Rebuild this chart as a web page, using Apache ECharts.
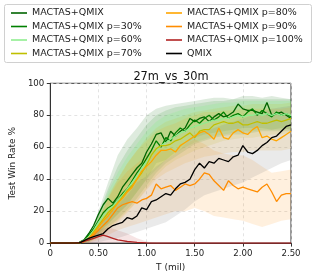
<!DOCTYPE html>
<html><head><meta charset="utf-8">
<script src="https://cdn.jsdelivr.net/npm/echarts@6/dist/echarts.min.js"></script>
<style>html,body{margin:0;padding:0;background:#fff}#c{width:317px;height:277px}</style>
</head><body><div id="c"></div>
<script>
// x grid for lines: 0..2.5 step 0.05 (mil); bands: 0..2.5 step 0.1
const lineStep = 0.05, bandStep = 0.1;
const seriesNames = ["MACTAS+QMIX","MACTAS+QMIX p=30%","MACTAS+QMIX p=60%","MACTAS+QMIX p=70%","MACTAS+QMIX p=80%","MACTAS+QMIX p=90%","MACTAS+QMIX p=100%","QMIX"];
const xTicks = [0, 0.5, 1.0, 1.5, 2.0, 2.5];
const yTicks = [0, 20, 40, 60, 80, 100];

const mactas     = [0,0,0,0,0,0,0.5,2,6,11,18,24,28,25,29,35,39,43,47,50,57,62,68,69,63,70,67,70,72,78,76,78,79,76,79,81,79,80,82,87,84,83,83,82,81,88,80,81,82,80,78];
const mactasP30  = [0,0,0,0,0,0,0.3,1.5,5,9,14,19,22,24,27,31,34,39,44,48,53,58,64,60,66,64,69,72,70,74,77,75,78,80,77,79,82,78,80,81,79,82,84,80,83,81,79,82,80,81,79];
const mactasP60  = [0,0,0,0,0,0,0.3,1.5,4,8,13,17,21,23,27,30,34,38,42,47,51,55,58,61,63,65,67,69,70,72,73,74,75,76,77,77,78,78,79,80,79,80,80,81,80,81,80,81,80,81,80];
const mactasP70  = [0,0,0,0,0,0,0.2,1,3,7,11,15,19,22,25,29,33,36,40,44,49,55,59,61,61,62,64,65,67,69,66,70,71,71,74,75,76,75,75,76,74,74,75,76,75,75,76,77,76,77,78];
const mactasP80  = [0,0,0,0,0,0,0.2,1,3,6,10,14,17,21,25,28,32,35,40,45,48,51,55,58,58,59,57,61,63,65,67,69,70,68,65,72,66,65,69,71,69,68,71,73,66,67,65,64,66,68,70];
const mactasP90  = [0,0,0,0,0,0,0.2,1,3,5,8,11,14,18,22,24,25,26,25,27,28,30,37,34,35,36,33,35,37,36,37,40,44,43,39,36,33,39,36,34,35,34,33,32,35,37,32,26,30,31,31];
const mactasP100 = [0,0,0,0,0,0,0.3,1,2,3,4,5,4,3,2,1.5,1,0.8,0.5,0.3,0.1,0,0,0,0,0,0,0,0,0,0,0,0,0,0,0,0,0,0,0,0,0,0,0,0,0,0,0,0,0,0];
const qmix       = [0,0,0,0,0,0,0,1.5,3,4,5,6,9,11,12,13,16,15,17,22,21,26,27,29,31,30,34,37,38,40,46,50,47,51,50,53,52,51,54,55,61,57,56,58,61,63,66,67,70,73,74];

// std bands (lower / upper), step 0.1
const mactasLo    = [0,0,0,0,1,6,12,18,24,32,40,50,52,57,62,66,68,69,70,71,72,72,72,71,72,71];
const mactasHi    = [0,0,0,0,3,20,38,55,65,72,80,84,86,87,88,89,90,91,91,90,92,92,91,92,91,90];
const mactasP30Lo = [0,0,0,0,0.5,4,10,15,21,28,36,44,50,54,58,62,64,66,67,68,68,69,70,70,70,70];
const mactasP30Hi = [0,0,0,0,3,18,34,48,58,66,74,80,83,85,86,87,88,89,89,90,90,90,90,90,90,90];
const mactasP60Lo = [0,0,0,0,1,6,12,18,24,32,40,46,52,56,60,63,65,67,68,69,70,70,71,71,71,72];
const mactasP60Hi = [0,0,0,0,3,17,32,44,54,62,70,76,80,82,84,85,86,87,88,88,89,89,89,89,89,89];
const mactasP70Lo = [0,0,0,0,0.5,4,9,14,20,26,34,42,48,52,55,58,60,62,64,65,66,66,67,68,68,69];
const mactasP70Hi = [0,0,0,0,3,16,30,40,50,58,66,72,76,78,80,82,83,84,85,86,86,87,87,87,87,88];
const mactasP80Lo = [0,0,0,0,0.5,3,8,13,19,26,33,40,44,47,50,52,54,55,56,57,57,58,58,58,58,59];
const mactasP80Hi = [0,0,0,0,3,15,28,40,50,58,64,70,73,75,78,80,82,82,83,83,84,84,84,84,84,85];
const mactasP90Lo = [0,0,0,0,0,2,5,8,10,12,14,16,18,20,20,22,20,17,16,15,14,12,10,12,14,15];
const mactasP90Hi = [0,0,0,0,3,14,28,38,45,50,55,60,58,58,62,65,62,58,56,55,55,52,48,44,45,46];
const mactasP100Lo= [0,0,0,0,0,0,0,0,0,0,0,0,0,0,0,0,0,0,0,0,0,0,0,0,0,0];
const mactasP100Hi= [0,0,0,0,3,8,10,8,6,3,1,0,0,0,0,0,0,0,0,0,0,0,0,0,0,0];
const qmixLo      = [0,0,0,0,0,0.5,2,3,5,7,9,11,13,17,21,26,30,32,34,36,38,41,44,47,50,52];
const qmixHi      = [0,0,0,0,3,10,18,24,30,38,42,48,52,56,62,68,70,72,74,76,78,80,82,84,85,86];

const lines = [mactas, mactasP30, mactasP60, mactasP70, mactasP80, mactasP90, mactasP100, qmix];
const bandsLo = [mactasLo, mactasP30Lo, mactasP60Lo, mactasP70Lo, mactasP80Lo, mactasP90Lo, mactasP100Lo, qmixLo];
const bandsHi = [mactasHi, mactasP30Hi, mactasP60Hi, mactasP70Hi, mactasP80Hi, mactasP90Hi, mactasP100Hi, qmixHi];
const colors = ['#006400','#008000','#90ee90','#bfbf00','#ffa500','#ff8c00','#b22222','#000000'];
const bandColors = ['rgba(0,100,0,0.13)','rgba(0,128,0,0.12)','rgba(144,238,144,0.28)','rgba(191,191,0,0.13)','rgba(255,165,0,0.13)','rgba(255,140,0,0.13)','rgba(178,34,34,0.12)','rgba(128,128,128,0.17)'];

const r = v => Math.round(v*1000)/1000;
const series = [];
bandsLo.forEach((lo, k) => {
  const hi = bandsHi[k];
  const rows = lo.map((v,i)=>[r(i*bandStep), v, hi[i]]);
  series.push({type:'custom', name:'band'+k, silent:true, z:1,
    encode:{x:0, y:[1,2]},
    data: rows,
    renderItem: (params, api) => {
      if (params.dataIndex !== 0) return null;
      const pts = [];
      rows.forEach(d => pts.push(api.coord([d[0], d[2]])));
      for (let i = rows.length-1; i >= 0; i--) pts.push(api.coord([rows[i][0], rows[i][1]]));
      return {type:'polygon', shape:{points:pts}, style:{fill:bandColors[k], stroke:null}};
    }});
});
lines.forEach((arr, k) => {
  series.push({type:'line', name:seriesNames[k], symbol:'none', color:colors[k],
    lineStyle:{width:1.3, color:colors[k]}, data: arr.map((v,i)=>[r(i*lineStep), v]), z:3+k});
});

const font = 'DejaVu Sans';
const legendCommon = {orient:'vertical', icon:'rect', itemWidth:16, itemHeight:1.6, itemGap:1.5, itemTextGap:8,
  textStyle:{fontFamily:font, fontSize:9.5, color:'#222', lineHeight:12}, padding:0, selectedMode:false};
const chart = echarts.init(document.getElementById('c'), null, {renderer:'canvas'});
chart.setOption({
  animation:false,
  backgroundColor:'#fff',
  title:{text:'27m_vs_30m', left:166, top:67, textAlign:'center',
    textStyle:{fontFamily:font, fontSize:11.4, fontWeight:'normal', color:'#111'}},
  graphic:[{type:'rect', shape:{x:4.5, y:4.5, width:307, height:58, r:2}, style:{fill:'#fff', stroke:'#d0d0d0', lineWidth:1}, z:0}],
  legend:[
    Object.assign({left:11, top:7, data:seriesNames.slice(0,4)}, legendCommon),
    Object.assign({left:166, top:7, data:seriesNames.slice(4)}, legendCommon)
  ],
  grid:{left:42, right:26, top:83.3, bottom:33.7, show:true, borderColor:'#333', borderWidth:1, backgroundColor:'transparent'},
  xAxis:{type:'value', min:0, max:2.5, interval:0.5,
    name:'T (mil)', nameLocation:'middle', nameGap:18, nameTextStyle:{fontFamily:font, fontSize:9, color:'#222'},
    axisLine:{show:true, lineStyle:{color:'#333'}}, axisTick:{show:true, length:3.5, lineStyle:{color:'#333'}},
    axisLabel:{fontFamily:font, fontSize:8.6, color:'#222', margin:6, formatter:v => v===0 ? '0' : v.toFixed(2)},
    splitLine:{show:true, lineStyle:{color:'#dcdcdc', type:[3,3], width:0.8}}},
  yAxis:{type:'value', min:0, max:100, interval:20,
    name:'Test Win Rate %', nameLocation:'middle', nameGap:24, nameTextStyle:{fontFamily:font, fontSize:9, color:'#222'},
    axisLine:{show:true, lineStyle:{color:'#333'}}, axisTick:{show:true, length:3.5, lineStyle:{color:'#333'}},
    axisLabel:{fontFamily:font, fontSize:8.6, color:'#222', margin:6},
    splitLine:{show:true, lineStyle:{color:'#dcdcdc', type:[3,3], width:0.8}}},
  series: series
});
</script></body></html>
